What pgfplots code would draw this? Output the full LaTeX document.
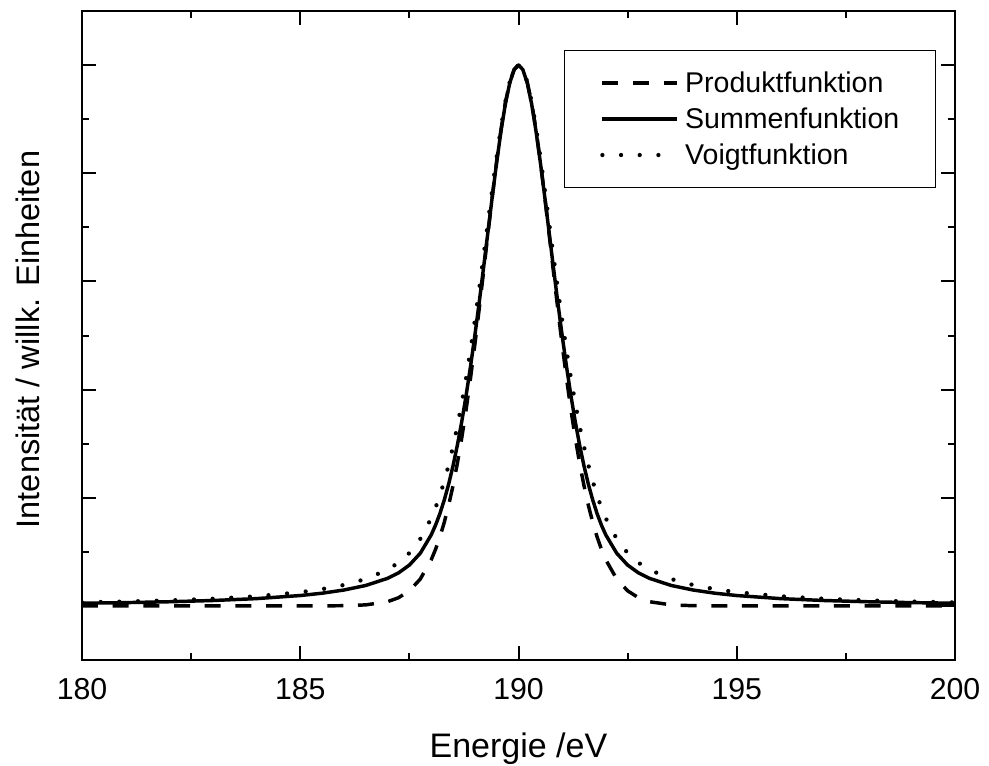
\documentclass[border=0pt]{standalone}
\usepackage{fontspec}
\setmainfont{Liberation Sans}
\usepackage{pgfplots}
\usepackage{pgfplotstable}
\pgfplotsset{compat=1.18}
\pgfplotstableread{
x S P V
180 0.0050 0 0.0065
181 0.0061 0 0.0081
182 0.0077 0 0.0102
183 0.0100 0 0.0132
184 0.0135 0 0.0178
185 0.0192 0 0.0253
185.5 0.0235 0.0001 0.0310
186 0.0294 0.0004 0.0387
186.5 0.0378 0.0019 0.0497
187 0.0510 0.0078 0.0669
187.25 0.0610 0.0151 0.0798
187.5 0.0755 0.0279 0.0978
187.75 0.0974 0.0497 0.1239
188 0.1313 0.0853 0.1620
188.1 0.1494 0.1047 0.1817
188.2 0.1708 0.1277 0.2045
188.3 0.1960 0.1547 0.2307
188.4 0.2252 0.1861 0.2606
188.5 0.2590 0.2224 0.2945
188.6 0.2974 0.2639 0.3327
188.7 0.3408 0.3108 0.3751
188.8 0.3892 0.3631 0.4219
188.9 0.4424 0.4207 0.4730
189 0.5000 0.4830 0.5280
189.1 0.5614 0.5493 0.5863
189.2 0.6257 0.6183 0.6471
189.3 0.6916 0.6884 0.7093
189.4 0.7572 0.7573 0.7713
189.5 0.8204 0.8225 0.8309
189.6 0.8785 0.8814 0.8857
189.7 0.9285 0.9309 0.9327
189.8 0.9671 0.9685 0.9691
189.9 0.9916 0.9920 0.9921
190 1 1 1
190.1 0.9916 0.9920 0.9921
190.2 0.9671 0.9685 0.9691
190.3 0.9285 0.9309 0.9327
190.4 0.8785 0.8814 0.8857
190.5 0.8204 0.8225 0.8309
190.6 0.7572 0.7573 0.7713
190.7 0.6916 0.6884 0.7093
190.8 0.6257 0.6183 0.6471
190.9 0.5614 0.5493 0.5863
191 0.5000 0.4830 0.5280
191.1 0.4424 0.4207 0.4730
191.2 0.3892 0.3631 0.4219
191.3 0.3408 0.3108 0.3751
191.4 0.2974 0.2639 0.3327
191.5 0.2590 0.2224 0.2945
191.6 0.2252 0.1861 0.2606
191.7 0.1960 0.1547 0.2307
191.8 0.1708 0.1277 0.2045
191.9 0.1494 0.1047 0.1817
192 0.1313 0.0853 0.1620
192.25 0.0974 0.0497 0.1239
192.5 0.0755 0.0279 0.0978
192.75 0.0610 0.0151 0.0798
193 0.0510 0.0078 0.0669
193.5 0.0378 0.0019 0.0497
194 0.0294 0.0004 0.0387
194.5 0.0235 0.0001 0.0310
195 0.0192 0 0.0253
196 0.0135 0 0.0178
197 0.0100 0 0.0132
198 0.0077 0 0.0102
199 0.0061 0 0.0081
200 0.0050 0 0.0065
}\data
\begin{document}
\begin{tikzpicture}
\path[use as bounding box] (0,0) rectangle (741.75pt,573.75pt);
\begin{axis}[
  at={(61.5pt,78.75pt)}, anchor=south west,
  scale only axis, width=654.75pt, height=486.75pt,
  xmin=180, xmax=200, ymin=-0.1, ymax=1.1,
  xtick={180,185,190,195,200}, minor xtick={182.5,187.5,192.5,197.5},
  ytick={0,0.2,0.4,0.6,0.8,1}, minor ytick={0.1,0.3,0.5,0.7,0.9},
  yticklabels={},
  major tick length=10.5pt, minor tick length=5.25pt,
  tick style={black, line width=1.5pt},
  axis line style={line width=2pt},
  /pgf/number format/assume math mode=true,
  xticklabel style={font=\fontsize{22.7}{26}\selectfont, yshift=-10.5pt},
  xlabel={Energie /eV}, ylabel={Intensität / willk. Einheiten},
  xlabel style={font=\fontsize{25.5}{30}\selectfont, at={(axis description cs:0.5,-0.137)}, anchor=center},
  ylabel style={font=\fontsize{24.4}{29}\selectfont, at={(axis description cs:-0.0619,0.4938)}, anchor=center},
  legend style={at={(axis description cs:0.9782,0.9399)}, anchor=north east,
    draw=black, line width=1pt, inner xsep=27pt, inner ysep=15.75pt,
    row sep=10pt, column sep=4.5pt, font=\fontsize{21.4}{25}\selectfont,
    nodes={inner sep=0pt}},
  legend cell align=left,
  legend image code/.code={\draw[#1] (0pt,0pt) -- (56pt,0pt);},
]
\addplot[black, line width=2.6pt, line join=round, dash pattern=on 12pt off 11pt] table[x=x,y=P]{\data};
\addlegendentry{Produktfunktion}
\addplot[black, line width=2.6pt, line join=round] table[x=x,y=S]{\data};
\addlegendentry{Summenfunktion}
\addplot[black, line width=3.2pt, line cap=round, dash pattern=on 0pt off 14pt] table[x=x,y=V]{\data};
\addlegendentry{Voigtfunktion}
\end{axis}
\end{tikzpicture}
\end{document}
